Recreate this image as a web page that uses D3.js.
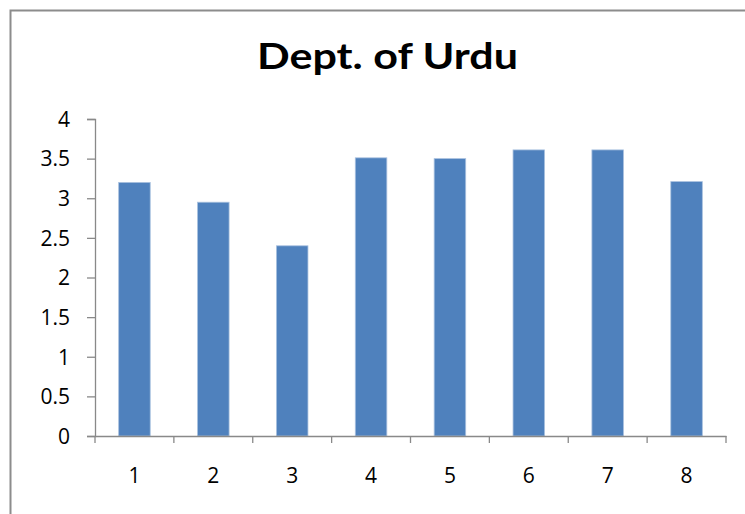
<!DOCTYPE html>
<html>
<head>
<meta charset="utf-8">
<script src="https://cdn.jsdelivr.net/npm/d3@7"></script>
<style>
  html, body { margin: 0; padding: 0; background: #fff; }
  svg { display: block; }
  text { font-family: "Open Sans", "Liberation Sans", sans-serif; fill: #000; }
</style>
</head>
<body>
<div id="chart"></div>
<script>
const categories = ["1", "2", "3", "4", "5", "6", "7", "8"];
const values = [3.2, 2.95, 2.4, 3.51, 3.5, 3.61, 3.61, 3.21];
const yTicks = [0, 0.5, 1, 1.5, 2, 2.5, 3, 3.5, 4];
const title = "Dept. of Urdu";

const W = 745, H = 514;
const margin = { top: 119, right: 19, bottom: 78, left: 95 };
const innerW = W - margin.left - margin.right;
const innerH = H - margin.top - margin.bottom;
const axisColor = "#898989";

const svg = d3.select("#chart")
  .append("svg")
  .attr("width", W)
  .attr("height", H);

// chart frame (only top and left edges are inside the picture)
svg.append("rect")
  .attr("x", 10.5)
  .attr("y", 10.5)
  .attr("width", 900)
  .attr("height", 900)
  .attr("fill", "none")
  .attr("stroke", "#8c8c8c")
  .attr("stroke-width", 2);

svg.append("text")
  .attr("x", 387.5)
  .attr("y", 69)
  .attr("text-anchor", "middle")
  .attr("textLength", 261)
  .attr("lengthAdjust", "spacingAndGlyphs")
  .style("font-family", "Lato, 'Open Sans', sans-serif")
  .style("font-size", "36px")
  .style("font-weight", "bold")
  .text(title);

const g = svg.append("g")
  .attr("transform", `translate(${margin.left},${margin.top})`);

const x = d3.scaleBand()
  .domain(categories)
  .range([0, innerW])
  .paddingInner(0.6)
  .paddingOuter(0.3);

const y = d3.scaleLinear()
  .domain([0, 4])
  .range([innerH, 0]);

// bars
g.selectAll(".bar")
  .data(values)
  .join("rect")
  .attr("class", "bar")
  .attr("x", (d, i) => x(categories[i]))
  .attr("y", (d) => y(d))
  .attr("width", x.bandwidth())
  .attr("height", (d) => innerH - y(d))
  .attr("fill", "#4f81bd")
  .attr("stroke", "#a9c1df")
  .attr("stroke-width", 0.8);

// y axis
const yAxis = g.append("g")
  .call(d3.axisLeft(y).tickValues(yTicks).tickSize(8).tickPadding(17).tickFormat(d3.format("")));
yAxis.selectAll("path, line").attr("stroke", axisColor).attr("stroke-width", 1.3);
yAxis.selectAll("text").style("font-size", "21px").attr("dy", "0.35em");

// x axis: labels at band centres, ticks at band boundaries
const xAxis = g.append("g")
  .attr("transform", `translate(0,${innerH})`)
  .call(d3.axisBottom(x).tickSize(0).tickPadding(32));
xAxis.select(".domain").attr("stroke", axisColor).attr("stroke-width", 1.3);
xAxis.selectAll("text").style("font-size", "21px");

const boundaries = d3.range(categories.length + 1).map((i) => x.range()[0] + i * x.step());
xAxis.selectAll(".bound")
  .data(boundaries)
  .join("line")
  .attr("class", "bound")
  .attr("x1", (d) => d)
  .attr("x2", (d) => d)
  .attr("y1", 0)
  .attr("y2", 7)
  .attr("stroke", axisColor)
  .attr("stroke-width", 1.3);
</script>
</body>
</html>
